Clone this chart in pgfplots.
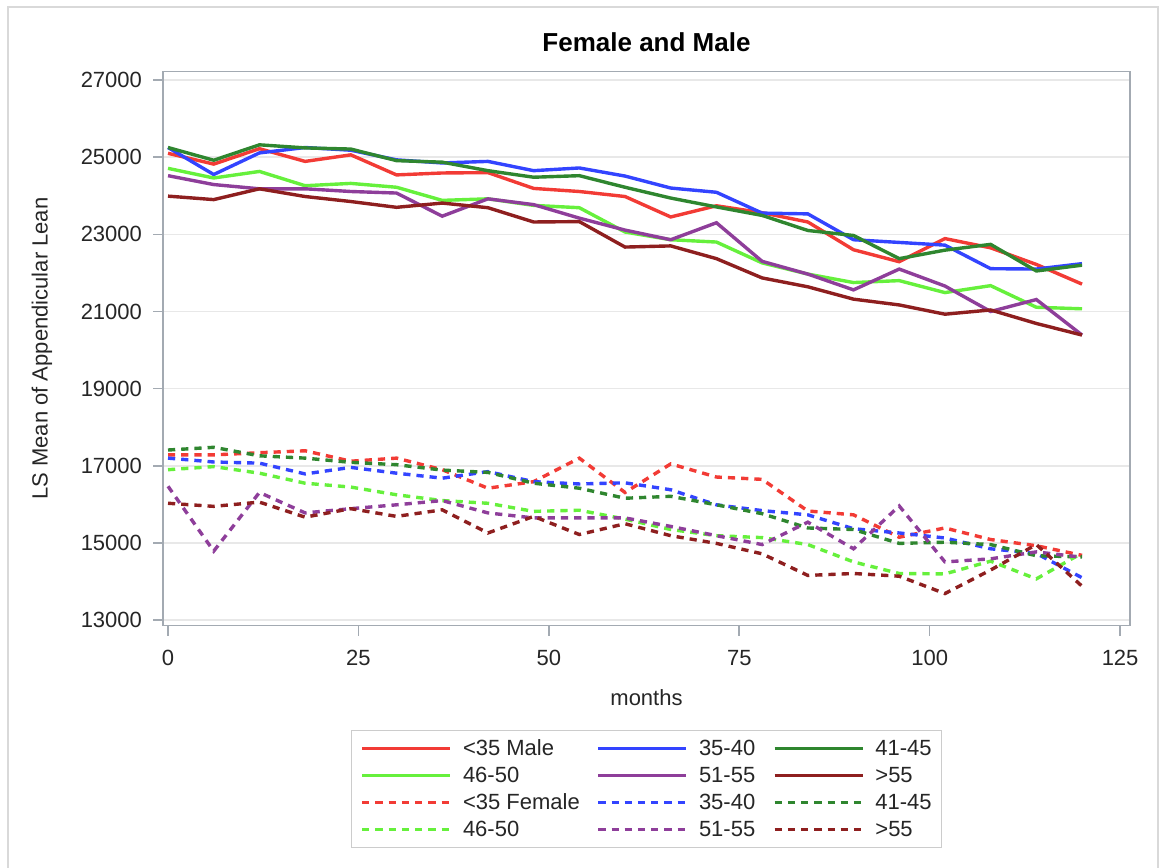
\documentclass[border=0pt]{standalone}
\usepackage{pgfplots}
\pgfplotsset{compat=1.18}
\usepackage{pgfplotstable}
\usepackage{fontspec}
\setmainfont{Liberation Sans}

\definecolor{cRed}{HTML}{F23B35}
\definecolor{cBlue}{HTML}{3344FF}
\definecolor{cDkGreen}{HTML}{2F862F}
\definecolor{cLtGreen}{HTML}{66F03C}
\definecolor{cPurple}{HTML}{8E3E9A}
\definecolor{cDkRed}{HTML}{8E1F1F}
\definecolor{axisgray}{HTML}{A3AAB2}
\definecolor{gridgray}{HTML}{E8E8E8}

% Male (solid)
\pgfplotstableread{
mon  r     b     g     l     p     d
0    25100 25250 25250 24710 24520 23990
6    24820 24550 24920 24460 24290 23900
12   25220 25110 25320 24630 24180 24180
18   24890 25250 25240 24260 24180 23980
24   25060 25180 25210 24320 24110 23850
30   24540 24930 24910 24220 24070 23700
36   24590 24850 24870 23880 23470 23810
42   24600 24890 24650 23920 23920 23690
48   24190 24650 24480 23750 23770 23320
54   24110 24720 24520 23690 23420 23330
60   23980 24510 24220 23060 23110 22670
66   23450 24200 23940 22860 22860 22700
72   23740 24090 23710 22800 23300 22370
78   23560 23550 23490 22260 22300 21870
84   23320 23530 23100 21970 21970 21640
90   22600 22860 22970 21750 21560 21320
96   22290 22790 22370 21800 22100 21170
102  22890 22720 22590 21490 21660 20930
108  22650 22110 22740 21670 21000 21040
114  22220 22100 22050 21110 21310 20690
120  21710 22240 22200 21070 20390 20390
}\male

% Female (dashed)
\pgfplotstableread{
mon  r     b     g     l     p     d
0    17284 17200 17410 16900 16470 16030
6    17284 17100 17480 16980 14790 15950
12   17340 17070 17260 16810 16310 16060
18   17390 16790 17200 16550 15780 15670
24   17120 16960 17090 16450 15890 15890
30   17200 16810 17030 16250 15990 15690
36   16900 16680 16890 16100 16100 15860
42   16420 16850 16830 16030 15780 15260
48   16590 16590 16550 15820 15650 15690
54   17200 16530 16420 15850 15650 15220
60   16310 16560 16160 15620 15650 15500
66   17050 16380 16210 15350 15430 15190
72   16710 15990 15990 15190 15190 14990
78   16650 15840 15760 15140 14960 14720
84   15830 15730 15390 14960 15540 14160
90   15730 15370 15350 14510 14850 14210
96   15150 15260 14990 14210 15960 14140
102  15390 15130 15020 14200 14510 13690
108  15090 14850 14960 14530 14590 14300
114  14930 14730 14670 14070 14770 14960
120  14680 14100 14640 14740 14630 13880
}\female

\newcommand{\LA}[1]{\makebox[72.3pt][l]{\hspace*{5.5pt}#1}}
\newcommand{\LB}[1]{\makebox[42.5pt][l]{\hspace*{5.5pt}#1}}
\newcommand{\LC}[1]{\makebox[34pt][l]{\hspace*{5.5pt}#1}}

\begin{document}
\begin{tikzpicture}
\path[use as bounding box] (-81.5pt,-120.75pt) rectangle (498.5pt,312.75pt);
\draw[color=gray!30, line width=1pt] (-77.25pt,-130pt) -- (-77.25pt,309.25pt) -- (497.5pt,309.25pt) -- (497.5pt,-130pt);
\begin{axis}[
  at={(0,0)}, anchor=south west,
  scale only axis,
  width=483.5pt, height=276.9pt,
  xmin=-0.66, xmax=126.3,
  ymin=12862, ymax=27215,
  xtick={0,25,50,75,100,125},
  ytick={13000,15000,17000,19000,21000,23000,25000,27000},
  scaled ticks=false,
  minor tick num=0,
  tick pos=left,
  tick align=outside,
  major tick length=5pt,
  tick style={color=axisgray, line width=0.8pt},
  axis line style={color=axisgray, line width=0.8pt},
  ymajorgrids,
  major grid style={color=gridgray, line width=0.8pt},
  /pgf/number format/assume math mode=true,
  /pgf/number format/1000 sep={},
  ticklabel style={font=\fontsize{11}{13}\selectfont, text=black!85},
  xticklabel style={yshift=-4pt},
  yticklabel style={xshift=-2pt},
  title={Female and Male},
  title style={font=\bfseries\fontsize{13}{15}\selectfont, at={(0.5,1)}, anchor=base, yshift=4.2pt},
  ylabel={LS Mean of Appendicular Lean},
  ylabel style={font=\fontsize{11}{13}\selectfont, text=black!85, at={(axis description cs:-0.1251,0.5)}, anchor=center},
  xlabel={months},
  xlabel style={font=\fontsize{11}{13}\selectfont, text=black!85, at={(axis description cs:0.5,-0.131)}, anchor=center},
  legend columns=3,
  legend cell align=left,
  legend style={at={(axis description cs:0.5,-0.1887)}, anchor=north,
    draw=gray!40, line width=0.6pt, fill=white,
    font=\fontsize{11}{13}\selectfont, text=black!85,
    inner xsep=4.5pt, inner ysep=4pt,
    column sep=0pt, row sep=3.5pt,
    nodes={inner xsep=0pt, inner ysep=0pt, text height=8.5pt, text depth=1.5pt}},
  legend image code/.code={\draw[#1] (0pt,0pt) -- (44pt,0pt);},
  every axis plot/.append style={line width=1.7pt},
  fdash/.style={dash pattern=on 3.6pt off 3pt},
]
\addplot[cRed, no markers] table[x=mon,y=r]{\male};
\addlegendentry{\LA{<35 Male}}
\addplot[cBlue, no markers] table[x=mon,y=b]{\male};
\addlegendentry{\LB{35-40}}
\addplot[cDkGreen, no markers] table[x=mon,y=g]{\male};
\addlegendentry{\LC{41-45}}
\addplot[cLtGreen, no markers] table[x=mon,y=l]{\male};
\addlegendentry{\LA{46-50}}
\addplot[cPurple, no markers] table[x=mon,y=p]{\male};
\addlegendentry{\LB{51-55}}
\addplot[cDkRed, no markers] table[x=mon,y=d]{\male};
\addlegendentry{\LC{>55}}
\addplot[cRed, fdash, no markers] table[x=mon,y=r]{\female};
\addlegendentry{\LA{<35 Female}}
\addplot[cBlue, fdash, no markers] table[x=mon,y=b]{\female};
\addlegendentry{\LB{35-40}}
\addplot[cDkGreen, fdash, no markers] table[x=mon,y=g]{\female};
\addlegendentry{\LC{41-45}}
\addplot[cLtGreen, fdash, no markers] table[x=mon,y=l]{\female};
\addlegendentry{\LA{46-50}}
\addplot[cPurple, fdash, no markers] table[x=mon,y=p]{\female};
\addlegendentry{\LB{51-55}}
\addplot[cDkRed, fdash, no markers] table[x=mon,y=d]{\female};
\addlegendentry{\LC{>55}}
\end{axis}
\end{tikzpicture}
\end{document}
